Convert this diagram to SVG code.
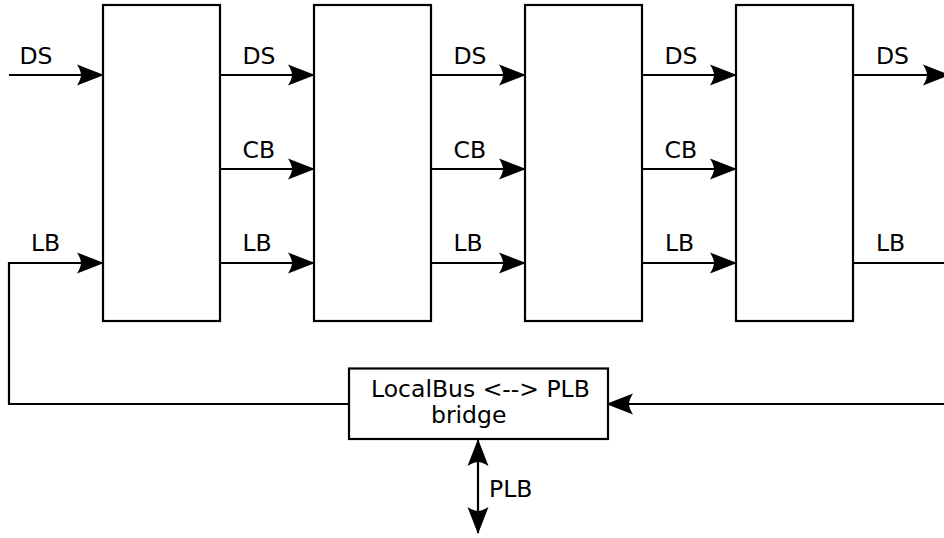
<svg xmlns="http://www.w3.org/2000/svg" width="944" height="538" viewBox="0 0 944 538">
  <style>
    .box { fill: #ffffff; stroke: #000000; stroke-width: 2.2; }
    .wire { fill: none; stroke: #000000; stroke-width: 2.2; }
    .lbl { font-family: "DejaVu Sans", "Bitstream Vera Sans", sans-serif; font-size: 23.5px; fill: #000000; }
  </style>
  <defs>
    <marker id="arrow" markerUnits="userSpaceOnUse" markerWidth="28" markerHeight="24" viewBox="-27 -12 28 24" refX="0" refY="0" orient="auto-start-reverse">
      <path d="M1,0 L-26,-10.5 Q-22,-4 -22,0 Q-22,4 -26,10.5 Z" fill="#000000"/>
    </marker>
  </defs>

  <rect width="944" height="538" fill="#ffffff"/>

  <!-- connectors -->
  <g id="connectors">
    <!-- data stream row -->
    <line class="wire" x1="9" y1="75" x2="103" y2="75" marker-end="url(#arrow)"/>
    <line class="wire" x1="220" y1="75" x2="314" y2="75" marker-end="url(#arrow)"/>
    <line class="wire" x1="431" y1="75" x2="525" y2="75" marker-end="url(#arrow)"/>
    <line class="wire" x1="642" y1="75" x2="736" y2="75" marker-end="url(#arrow)"/>
    <line class="wire" x1="853" y1="75" x2="949" y2="75" marker-end="url(#arrow)"/>
    <!-- control bus row -->
    <line class="wire" x1="220" y1="169" x2="314" y2="169" marker-end="url(#arrow)"/>
    <line class="wire" x1="431" y1="169" x2="525" y2="169" marker-end="url(#arrow)"/>
    <line class="wire" x1="642" y1="169" x2="736" y2="169" marker-end="url(#arrow)"/>
    <!-- local bus row -->
    <polyline class="wire" points="349,404 9,404 9,263 103,263" marker-end="url(#arrow)"/>
    <line class="wire" x1="220" y1="263" x2="314" y2="263" marker-end="url(#arrow)"/>
    <line class="wire" x1="431" y1="263" x2="525" y2="263" marker-end="url(#arrow)"/>
    <line class="wire" x1="642" y1="263" x2="736" y2="263" marker-end="url(#arrow)"/>
    <line class="wire" x1="853" y1="263" x2="946" y2="263"/>
    <!-- return into bridge -->
    <line class="wire" x1="946" y1="404" x2="607" y2="404" marker-end="url(#arrow)"/>
    <!-- PLB port -->
    <line class="wire" x1="478" y1="440" x2="478" y2="533" marker-start="url(#arrow)" marker-end="url(#arrow)"/>
  </g>

  <!-- stage blocks -->
  <g id="stage1"><rect class="box" x="103" y="5" width="117" height="316"/></g>
  <g id="stage2"><rect class="box" x="314" y="5" width="117" height="316"/></g>
  <g id="stage3"><rect class="box" x="525" y="5" width="117" height="316"/></g>
  <g id="stage4"><rect class="box" x="736" y="5" width="117" height="316"/></g>

  <!-- bridge -->
  <g id="bridge">
    <rect class="box" x="349" y="368.5" width="259" height="70.5"/>
    <text class="lbl" x="371" y="396.5">LocalBus &lt;--&gt; PLB</text>
    <text class="lbl" x="431" y="422.5">bridge</text>
  </g>

  <!-- signal labels -->
  <g id="labels">
    <text class="lbl" x="19.5" y="64">DS</text>
    <text class="lbl" x="242.5" y="64">DS</text>
    <text class="lbl" x="453.5" y="64">DS</text>
    <text class="lbl" x="664.5" y="64">DS</text>
    <text class="lbl" x="876" y="64">DS</text>
    <text class="lbl" x="242.5" y="157.5">CB</text>
    <text class="lbl" x="453.5" y="157.5">CB</text>
    <text class="lbl" x="664.5" y="157.5">CB</text>
    <text class="lbl" x="31" y="251">LB</text>
    <text class="lbl" x="242.5" y="251">LB</text>
    <text class="lbl" x="453.5" y="251">LB</text>
    <text class="lbl" x="665" y="251">LB</text>
    <text class="lbl" x="876" y="251">LB</text>
    <text class="lbl" x="489" y="497">PLB</text>
  </g>
</svg>
